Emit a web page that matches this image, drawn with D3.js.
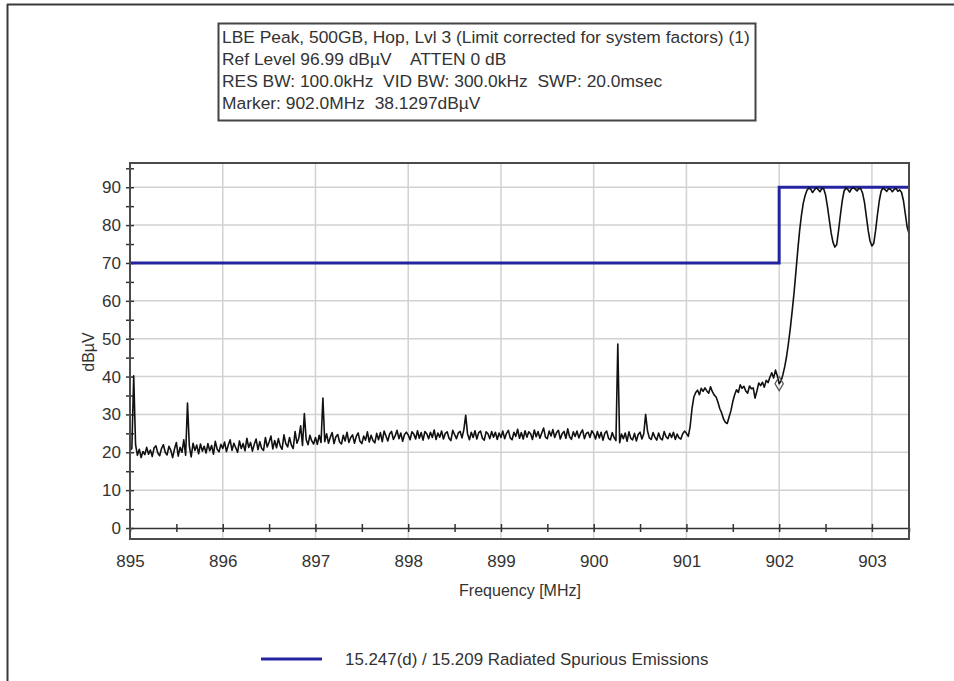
<!DOCTYPE html>
<html><head><meta charset="utf-8">
<script src="https://cdn.jsdelivr.net/npm/d3@7"></script>
<style>
body{margin:0;background:#fff}
svg{display:block}
text{font-family:"Liberation Sans",Arial,sans-serif;fill:#333;white-space:pre}
</style>
</head><body>
<svg id="c" width="954" height="681"></svg>
<script>
// ---------------- data ----------------
const headerLines = [
  "LBE Peak, 500GB, Hop, Lvl 3 (Limit corrected for system factors) (1)",
  "Ref Level 96.99 dBµV    ATTEN 0 dB",
  "RES BW: 100.0kHz  VID BW: 300.0kHz  SWP: 20.0msec",
  "Marker: 902.0MHz  38.1297dBµV"
];
const xTickLabels = [895, 896, 897, 898, 899, 900, 901, 902, 903];
const yTickLabels = [0, 10, 20, 30, 40, 50, 60, 70, 80, 90];
const xAxisTitle = "Frequency [MHz]";
const yAxisTitle = "dBµV";
const legendLabel = "15.247(d) / 15.209 Radiated Spurious Emissions";

const limitFreqs  = [895, 902, 902, 903.4];
const limitLevels = [70, 70, 90, 90];

const markerFreq = 902.0;
const markerLevel = 38.1297;

// sweep: 895.00 MHz upward, 0.02 MHz per point
const sweepStart = 895.0;
const sweepStep = 0.02;
const trace895 = [20.5,21.0,40.2,22.0,19.2,20.8,18.6,20.2,19.4,21.3,
                  19.5,20.6,18.9,21.2,21.7,19.8,19.1,21.0,22.0,20.0,
                  19.3,21.6,20.5,18.6,20.9,22.6,19.0,21.3,20.0,23.3,
                  19.2,33.0,21.6,18.8,22.4,20.5,21.9,19.6,22.2,20.3,
                  21.6,19.8,22.3,20.4,21.8,19.5,22.9,20.8,20.1,22.1];
const trace896 = [21.0,22.7,20.2,21.9,23.3,20.5,22.4,21.2,20.0,23.0,
                  21.0,22.3,20.4,23.7,21.3,22.6,20.3,22.1,23.5,20.7,
                  22.8,21.0,20.5,23.9,21.4,22.7,24.3,20.9,23.1,21.2,
                  23.6,21.7,20.8,24.6,22.3,21.4,23.9,21.9,21.0,25.5,
                  22.4,23.7,27.0,21.8,30.2,23.3,22.0,24.5,23.0,22.2];
const trace897 = [23.9,22.1,24.5,22.6,34.3,22.8,24.9,22.4,24.0,25.2,
                  22.3,24.1,24.7,22.7,22.2,24.5,23.0,25.3,22.6,23.9,
                  24.6,22.4,24.2,25.1,22.9,22.3,24.3,23.2,25.4,22.7,
                  24.5,23.1,22.5,25.0,23.3,25.2,22.8,25.6,24.3,23.0,
                  24.9,25.5,23.4,24.4,25.8,23.6,25.1,22.9,24.7,25.3];
const trace898 = [24.6,23.3,25.4,24.8,23.5,25.7,23.7,25.2,23.2,25.5,
                  24.9,23.6,25.3,23.9,25.9,23.4,25.1,24.0,25.6,23.5,
                  25.0,25.4,23.7,23.1,25.8,24.7,23.6,25.1,25.5,23.8,
                  26.0,29.8,24.8,23.3,25.3,23.9,25.7,23.5,25.2,25.6,
                  23.7,23.2,25.4,24.9,23.6,25.5,24.0,25.3,23.4,25.1];
const trace899 = [23.9,25.6,23.6,25.0,25.8,23.8,23.3,25.3,24.2,26.1,
                  23.7,25.2,23.5,25.7,24.0,25.4,24.9,23.4,25.9,24.1,
                  25.5,23.7,25.1,26.4,24.0,23.6,25.6,24.3,26.0,23.9,
                  25.2,25.8,23.5,24.9,25.5,23.7,26.2,24.1,23.4,25.4,
                  24.2,25.6,23.8,25.1,25.9,23.6,25.0,25.3,23.9,25.7];
const trace900 = [24.9,23.5,25.5,23.8,25.3,23.2,25.0,25.6,23.7,23.3,
                  25.2,23.9,23.1,48.6,22.5,24.8,23.6,25.1,22.9,25.4,
                  23.7,23.3,25.0,23.0,24.7,25.3,23.5,24.9,30.0,25.7,
                  23.8,23.4,25.2,24.0,23.2,25.1,23.7,23.3,25.5,24.1,
                  23.6,25.0,23.9,25.3,23.4,24.8,23.8,23.5,24.9,25.6];
const trace901 = [25.0,24.2,26.8,31.5,34.6,35.8,36.4,35.2,36.9,36.1,
                  37.0,36.2,35.6,37.3,36.0,35.1,34.6,33.2,31.5,30.4,
                  28.8,27.9,27.6,29.3,31.0,33.4,35.2,36.5,35.8,37.8,
                  36.9,37.4,36.2,35.6,37.5,36.8,37.0,34.3,36.2,38.3,
                  37.6,38.5,37.2,39.0,38.4,39.8,41.0,39.6,41.7,40.2];
const trace902 = [38.1,38.8,40.5,42.6,45.3,48.8,52.7,57.2,62.0,67.5,
                  73.2,78.4,82.6,85.8,87.8,89.2,89.8,89.5,88.6,89.3,
                  89.9,89.4,88.8,89.7,89.6,88.0,85.0,81.5,78.0,75.5,
                  74.2,74.8,78.5,82.6,86.4,89.0,89.8,89.4,88.7,89.6,
                  89.9,89.5,89.0,89.7,89.6,88.4,86.0,82.3,78.6,75.8];
const trace903 = [74.5,75.2,78.6,82.8,86.5,89.0,89.8,89.4,88.9,89.6,
                  89.5,88.8,89.4,89.7,88.9,89.3,88.6,86.5,83.0,79.5,77.8];

// ---------------- build ----------------
const traceLevels = [].concat(trace895, trace896, trace897, trace898, trace899,
                              trace900, trace901, trace902, trace903);
const tracePoints = traceLevels.map((v, i) => ({f: sweepStart + i * sweepStep, v}));
const limitPoints = limitFreqs.map((f, i) => ({f, v: limitLevels[i]}));

const svg = d3.select("#c");
const W = 954, H = 681;
const plot = {left: 130, right: 909, top: 163, bottom: 539};

const x = d3.scaleLinear().domain([895, 903.4]).range([plot.left, plot.right]);
const y = d3.scaleLinear().domain([-2.9, 96.4]).range([plot.bottom, plot.top]);

// outer window border
svg.append("line").attr("x1", 7).attr("x2", W).attr("y1", 4.5).attr("y2", 4.5)
  .attr("stroke", "#3a3a3a").attr("stroke-width", 2);
svg.append("line").attr("x1", 7.5).attr("x2", 7.5).attr("y1", 4).attr("y2", H)
  .attr("stroke", "#3a3a3a").attr("stroke-width", 2);

// header box
const hb = svg.append("g");
hb.append("rect").attr("x", 218.5).attr("y", 23.5).attr("width", 537).attr("height", 97)
  .attr("fill", "#fff").attr("stroke", "#444").attr("stroke-width", 2);
hb.selectAll("text").data(headerLines).join("text")
  .attr("x", 222).attr("y", (d, i) => 43 + i * 22)
  .attr("font-size", 17.4).text(d => d);

// grid
const grid = svg.append("g");
grid.selectAll("line.h").data(yTickLabels.filter(v => v > 0)).join("line")
  .attr("x1", plot.left).attr("x2", plot.right)
  .attr("y1", d => y(d)).attr("y2", d => y(d))
  .attr("stroke", "#d2d2d2").attr("stroke-width", 1.5);
grid.selectAll("line.v").data(xTickLabels.filter(v => v > 895)).join("line")
  .attr("y1", plot.top).attr("y2", plot.bottom)
  .attr("x1", d => x(d)).attr("x2", d => x(d))
  .attr("stroke", "#d2d2d2").attr("stroke-width", 1.5);

// clip
svg.append("clipPath").attr("id", "clip").append("rect")
  .attr("x", plot.left).attr("y", plot.top)
  .attr("width", plot.right - plot.left).attr("height", plot.bottom - plot.top);

// zero axis with half-MHz ticks
const zeroAxis = d3.axisBottom(x)
  .tickValues(d3.range(895.5, 903.41, 0.5))
  .tickSize(4).tickFormat("");
const za = svg.append("g").attr("transform", `translate(0,${y(0)})`).call(zeroAxis);
za.select(".domain").attr("stroke", "#333").attr("stroke-width", 1.5);
za.selectAll(".tick line").attr("y1", -4).attr("y2", 4).attr("stroke", "#333").attr("stroke-width", 1.5);

// y axis (ticks every 5, labels every 10)
const yAxis = d3.axisLeft(y)
  .tickValues(d3.range(0, 96, 5))
  .tickSize(4).tickPadding(5)
  .tickFormat(d => (d % 10 === 0 ? String(d) : ""));
const ya = svg.append("g").attr("transform", `translate(${plot.left},0)`).call(yAxis);
ya.select(".domain").remove();
ya.selectAll(".tick line").attr("x1", -4).attr("x2", 4).attr("stroke", "#333").attr("stroke-width", 1.5);
ya.selectAll(".tick text").attr("font-size", 17).attr("fill", "#333")
  .attr("font-family", "Liberation Sans, Arial, sans-serif");

// x labels below frame
const xAxis = d3.axisBottom(x).tickValues(xTickLabels).tickSize(0).tickPadding(16)
  .tickFormat(d3.format("d"));
const xa = svg.append("g").attr("transform", `translate(0,${plot.bottom})`).call(xAxis);
xa.select(".domain").remove();
xa.selectAll(".tick text").attr("font-size", 17).attr("fill", "#333")
  .attr("font-family", "Liberation Sans, Arial, sans-serif");

// limit line
svg.append("path").datum(limitPoints)
  .attr("clip-path", "url(#clip)")
  .attr("fill", "none").attr("stroke", "#2424a0").attr("stroke-width", 3)
  .attr("d", d3.line().x(d => x(d.f)).y(d => y(d.v)));

// trace
svg.append("path").datum(tracePoints)
  .attr("clip-path", "url(#clip)")
  .attr("fill", "none").attr("stroke", "#111").attr("stroke-width", 1.6)
  .attr("stroke-linejoin", "round")
  .attr("d", d3.line().x(d => x(d.f)).y(d => y(d.v)));

// marker
svg.append("path")
  .attr("transform", `translate(${x(markerFreq)},${y(markerLevel)})`)
  .attr("d", d3.symbol(d3.symbolDiamond, 60)())
  .attr("fill", "none").attr("stroke", "#555").attr("stroke-width", 1.2);

// frame
svg.append("rect").attr("x", plot.left).attr("y", plot.top)
  .attr("width", plot.right - plot.left).attr("height", plot.bottom - plot.top)
  .attr("fill", "none").attr("stroke", "#4a4a4a").attr("stroke-width", 2);

// axis titles
svg.append("text").attr("x", 520).attr("y", 596).attr("text-anchor", "middle")
  .attr("font-size", 16).text(xAxisTitle);
svg.append("text").attr("transform", "translate(94,352) rotate(-90)")
  .attr("text-anchor", "middle").attr("font-size", 16).text(yAxisTitle);

// legend
svg.append("line").attr("x1", 261).attr("x2", 322).attr("y1", 659).attr("y2", 659)
  .attr("stroke", "#2424a0").attr("stroke-width", 3);
svg.append("text").attr("x", 345).attr("y", 665).attr("font-size", 16.9).text(legendLabel);
</script>
</body></html>
